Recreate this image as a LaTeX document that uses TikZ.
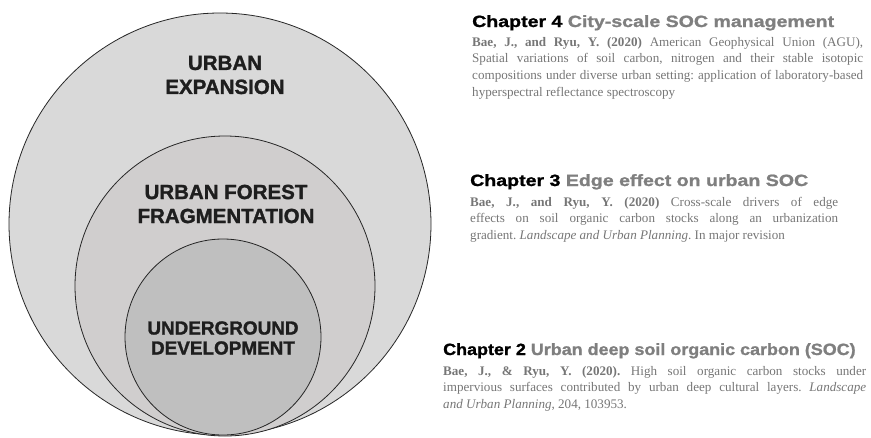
\documentclass[tikz,border=0pt]{standalone}
\usepackage{fontspec}
\setmainfont{Liberation Serif}
\newfontfamily\labelfont{Liberation Sans}[UprightFont={* Bold}, FakeBold=1.4]
\newfontfamily\headfont{Liberation Sans}[UprightFont={* Bold}, FakeStretch=1.2, FakeBold=1.2]
\newfontfamily\headfontnarrow{Liberation Sans}[UprightFont={* Bold}, FakeStretch=1.1, FakeBold=1.2]
\definecolor{outerfill}{HTML}{D9D9D9}
\definecolor{midfill}{HTML}{D0CECE}
\definecolor{innerfill}{HTML}{BFBFBF}
\definecolor{labelink}{HTML}{1E1E1E}
\definecolor{headgray}{HTML}{7F7F7F}
\definecolor{bodygray}{HTML}{767676}
\tikzset{
  ring/.style={draw=black!85, line width=0.8pt},
  ringlabel/.style={font=\labelfont, text=labelink, align=center, inner sep=0pt},
  headline/.style={anchor=base west, inner sep=0pt, font=\headfont\fontsize{16.3}{18}\selectfont},
  bodytext/.style={anchor=base west, inner sep=0pt, text=bodygray}
}
\newcommand{\chapterhead}[2]{\textcolor{black}{Chapter #1} \textcolor{headgray}{#2}}
\newcommand{\refbody}[2]{\parbox[t]{#1}{\fontsize{13.1}{16.9}\selectfont\frenchspacing
  \hyphenpenalty=10000 \exhyphenpenalty=10000
  \spaceskip=0.25em plus 0.6em minus 0.1em #2}}
\begin{document}
\begin{tikzpicture}[x=1pt, y=-1pt]
  \useasboundingbox (0,0) rectangle (871,437);
  % nested circles, all touching the bottom edge
  \fill[outerfill] (220,224) circle (211);
  \draw[ring] (220,224) circle (211);
  \fill[midfill] (225,286) circle (150);
  \draw[ring] (225,286) circle (150);
  \fill[innerfill] (223,337) circle (98);
  \draw[ring] (223,337) circle (98);

  \node[ringlabel, font=\labelfont\fontsize{20.5}{24}\selectfont] (expansion) at (225,75) {URBAN\\EXPANSION};
  \node[ringlabel, font=\labelfont\fontsize{20.5}{24}\selectfont] (fragmentation) at (226,204) {URBAN FOREST\\FRAGMENTATION};
  \node[ringlabel, font=\labelfont\fontsize{18.9}{20}\selectfont] (underground) at (223,338) {UNDERGROUND\\DEVELOPMENT};

  % Chapter 4
  \node[headline] (h4) at (472,27) {\chapterhead{4}{City-scale SOC management}};
  \node[bodytext] (b4) at (472,46) {\refbody{391pt}{\textbf{Bae, J., and Ryu, Y. (2020)} American Geophysical Union (AGU),\linebreak Spatial variations of soil carbon, nitrogen and their stable isotopic\linebreak compositions under diverse urban setting: application of laboratory-based\linebreak hyperspectral reflectance spectroscopy}};

  % Chapter 3
  \node[headline] (h3) at (470,186) {\chapterhead{3}{Edge effect on urban SOC}};
  \node[bodytext] (b3) at (470,206) {\refbody{368pt}{\textbf{Bae, J., and Ryu, Y. (2020)} Cross-scale drivers of edge\linebreak effects on soil organic carbon stocks along an urbanization\linebreak gradient. \textit{Landscape and Urban Planning}. In major revision}};

  % Chapter 2
  \node[headline, font=\headfontnarrow\fontsize{16.3}{18}\selectfont] (h2) at (443,355) {\chapterhead{2}{Urban deep soil organic carbon (SOC)}};
  \node[bodytext] (b2) at (443,375) {\refbody{423pt}{\textbf{Bae, J., \& Ryu, Y. (2020).} High soil organic carbon stocks under\linebreak impervious surfaces contributed by urban deep cultural layers. \textit{Landscape\linebreak and Urban Planning}, 204, 103953.}};
\end{tikzpicture}
\end{document}
